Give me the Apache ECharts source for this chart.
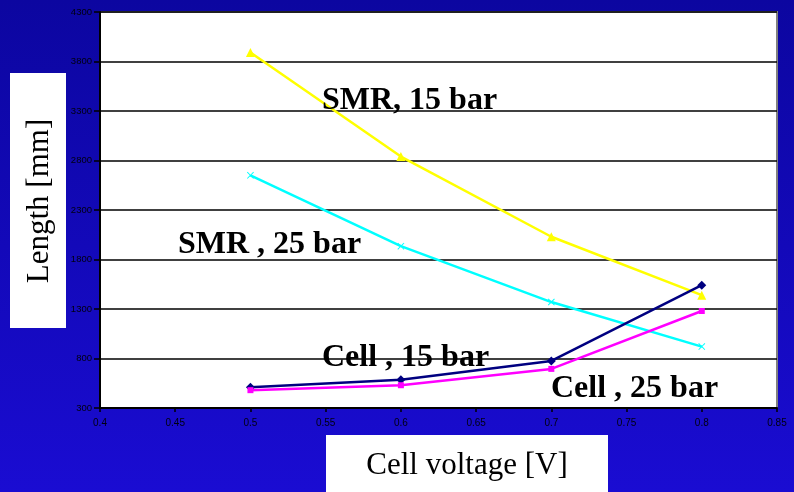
<!DOCTYPE html>
<html>
<head>
<meta charset="utf-8">
<script src="https://cdn.jsdelivr.net/npm/echarts@6/dist/echarts.min.js"></script>
<style>
  html, body { margin: 0; padding: 0; }
  #chart { width: 794px; height: 492px; }
</style>
</head>
<body>
<div id="chart"></div>
<script>
// Cell voltage [V] on the x axis
const voltages = [0.5, 0.6, 0.7, 0.8];
// Length [mm] for each configuration
const smr15 = [3890, 2840, 2030, 1440];
const smr25 = [2650, 1935, 1370, 920];
const cell15 = [510, 585, 775, 1540];
const cell25 = [480, 530, 695, 1280];

const seriesNames = ['SMR, 15 bar', 'SMR , 25 bar', 'Cell , 15 bar', 'Cell , 25 bar'];

function pairs(ys) { return voltages.map((v, i) => [v, ys[i]]); }

const crossPath = 'path://M0,1L1,0L5,4L9,0L10,1L6,5L10,9L9,10L5,6L1,10L0,9L4,5Z';

const chart = echarts.init(document.getElementById('chart'));
const serif = '"Liberation Serif", "Times New Roman", serif';
const sans = '"Liberation Sans", Arial, sans-serif';

chart.setOption({
  animation: false,
  backgroundColor: {
    type: 'linear', x: 0, y: 0, x2: 0, y2: 1,
    colorStops: [{ offset: 0, color: '#0c06a0' }, { offset: 1, color: '#1a0cd2' }]
  },
  grid: {
    left: 100, right: 17, top: 12, bottom: 84,
    show: true, backgroundColor: '#ffffff', borderColor: '#808080', borderWidth: 2
  },
  xAxis: {
    type: 'value', min: 0.4, max: 0.85, interval: 0.05,
    axisLine: { show: true, onZero: false, lineStyle: { color: '#000', width: 2 } },
    axisTick: { show: true, length: 4, lineStyle: { color: '#000', width: 1.5 } },
    splitLine: { show: false },
    axisLabel: { margin: 10, fontFamily: sans, fontSize: 10, color: '#000010',
      formatter: v => String(+v.toFixed(2)) }
  },
  yAxis: {
    type: 'value', min: 300, max: 4300, interval: 500,
    axisLine: { show: true, lineStyle: { color: '#000', width: 2 } },
    axisTick: { show: true, length: 6, lineStyle: { color: '#000', width: 1.5 } },
    splitLine: { show: true, lineStyle: { color: '#000', width: 1.5 } },
    axisLabel: { margin: 8, fontFamily: sans, fontSize: 9.5, color: '#000010',
      formatter: v => String(v) }
  },
  series: [
    { name: seriesNames[0], type: 'line', data: pairs(smr15), symbol: 'triangle', symbolSize: 9,
      lineStyle: { color: '#ffff00', width: 2.5 }, itemStyle: { color: '#ffff00' } },
    { name: seriesNames[1], type: 'line', data: pairs(smr25), symbol: crossPath, symbolSize: 7,
      lineStyle: { color: '#00ffff', width: 2.5 }, itemStyle: { color: '#00ffff' } },
    { name: seriesNames[2], type: 'line', data: pairs(cell15), symbol: 'diamond', symbolSize: 9,
      lineStyle: { color: '#000080', width: 2.5 }, itemStyle: { color: '#000080' } },
    { name: seriesNames[3], type: 'line', data: pairs(cell25), symbol: 'rect', symbolSize: 6,
      lineStyle: { color: '#ff00ff', width: 2.5 }, itemStyle: { color: '#ff00ff' } }
  ],
  graphic: [
    // axis title boxes
    { type: 'rect', left: 10, top: 73, shape: { width: 56, height: 255 }, style: { fill: '#fff' }, z: 10 },
    { type: 'text', x: 40, y: 201, rotation: Math.PI / 2, z: 11,
      style: { text: 'Length [mm]', font: '31px ' + serif, fill: '#000', textAlign: 'center', textVerticalAlign: 'middle' } },
    { type: 'rect', left: 326, top: 435, shape: { width: 282, height: 60 }, style: { fill: '#fff' }, z: 10 },
    { type: 'text', x: 467, y: 466, z: 11,
      style: { text: 'Cell voltage [V]', font: '31px ' + serif, fill: '#000', textAlign: 'center', textVerticalAlign: 'middle' } },
    // curve labels
    { type: 'text', x: 322, y: 101, z: 12,
      style: { text: seriesNames[0], font: 'bold 32px ' + serif, fill: '#000', textVerticalAlign: 'middle' } },
    { type: 'text', x: 178, y: 245, z: 12,
      style: { text: seriesNames[1], font: 'bold 32px ' + serif, fill: '#000', textVerticalAlign: 'middle' } },
    { type: 'text', x: 322, y: 358, z: 12,
      style: { text: seriesNames[2], font: 'bold 32px ' + serif, fill: '#000', textVerticalAlign: 'middle' } },
    { type: 'text', x: 551, y: 389, z: 12,
      style: { text: seriesNames[3], font: 'bold 32px ' + serif, fill: '#000', textVerticalAlign: 'middle' } }
  ]
});
</script>
</body>
</html>
